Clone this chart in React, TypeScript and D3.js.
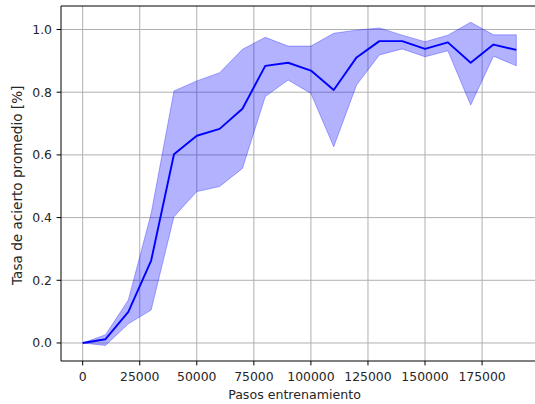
import React from "react";
import * as d3 from "d3";

// Training steps and success rate (mean with ±1 std band)
const steps = [0, 10000, 20000, 30000, 40000, 50000, 60000, 70000, 80000, 90000,
  100000, 110000, 120000, 130000, 140000, 150000, 160000, 170000, 180000, 190000];
const meanRate = [0.0, 0.012, 0.099, 0.263, 0.602, 0.661, 0.683, 0.747, 0.884, 0.894,
  0.869, 0.807, 0.911, 0.963, 0.963, 0.938, 0.959, 0.894, 0.952, 0.935];
const upperRate = [0.0, 0.026, 0.137, 0.413, 0.804, 0.836, 0.862, 0.937, 0.975, 0.947,
  0.947, 0.988, 0.998, 1.005, 0.982, 0.961, 0.982, 1.023, 0.983, 0.983];
const lowerRate = [0.0, -0.008, 0.061, 0.105, 0.403, 0.483, 0.499, 0.557, 0.786, 0.839,
  0.796, 0.626, 0.823, 0.919, 0.938, 0.913, 0.932, 0.759, 0.915, 0.884];

const xTicks = [0, 25000, 50000, 75000, 100000, 125000, 150000, 175000];
const yTicks = [0.0, 0.2, 0.4, 0.6, 0.8, 1.0];

const W = 535;
const H = 404;
const plot = { left: 61, top: 6, right: 538, bottom: 361 };
const FONT = "'DejaVu Sans', sans-serif";
const FS = 12.4;

export default function App() {
  const x = d3.scaleLinear().domain([-9500, 199500]).range([plot.left, plot.right]);
  const y = d3.scaleLinear().domain([-0.0575, 1.075]).range([plot.bottom, plot.top]);

  const rows = steps.map((s, i) => ({ s, m: meanRate[i], hi: upperRate[i], lo: lowerRate[i] }));

  const band = d3.area<typeof rows[number]>()
    .x((d) => x(d.s))
    .y0((d) => y(d.lo))
    .y1((d) => y(d.hi))(rows) ?? "";
  const line = d3.line<typeof rows[number]>()
    .x((d) => x(d.s))
    .y((d) => y(d.m))(rows) ?? "";

  return (
    <svg width={W} height={H} style={{ position: "absolute", left: 0, top: 0, background: "#fff" }}
      fontFamily={FONT}>
      <defs>
        <clipPath id="plotArea">
          <rect x={plot.left} y={plot.top} width={plot.right - plot.left} height={plot.bottom - plot.top} />
        </clipPath>
      </defs>
      <rect x={0} y={0} width={W} height={H} fill="#fff" />

      {/* grid */}
      <g stroke="#b0b0b0" strokeWidth={1}>
        {xTicks.map((t) => (
          <line key={"gx" + t} x1={x(t)} x2={x(t)} y1={plot.top} y2={plot.bottom} />
        ))}
        {yTicks.map((t) => (
          <line key={"gy" + t} x1={plot.left} x2={plot.right} y1={y(t)} y2={y(t)} />
        ))}
      </g>

      <g clipPath="url(#plotArea)">
        <path d={band} fill="#0000ff" fillOpacity={0.3} stroke="#0000ff" strokeOpacity={0.3} strokeWidth={1} />
        <path d={line} fill="none" stroke="#0000ff" strokeWidth={1.9} strokeLinejoin="round" />
      </g>

      {/* spines */}
      <g stroke="#000" strokeWidth={1} fill="none">
        <line x1={plot.left} x2={plot.left} y1={plot.top} y2={plot.bottom} />
        <line x1={plot.left} x2={plot.right} y1={plot.bottom} y2={plot.bottom} />
        <line x1={plot.left} x2={plot.right} y1={plot.top} y2={plot.top} />
        <line x1={plot.right} x2={plot.right} y1={plot.top} y2={plot.bottom} />
      </g>

      {/* x axis ticks */}
      <g fontSize={FS} fill="#262626" textAnchor="middle">
        {xTicks.map((t) => (
          <g key={"tx" + t}>
            <line x1={x(t)} x2={x(t)} y1={plot.bottom} y2={plot.bottom + 4.4} stroke="#000" strokeWidth={1} />
            <text x={x(t)} y={plot.bottom + 20}>{String(t)}</text>
          </g>
        ))}
      </g>

      {/* y axis ticks */}
      <g fontSize={FS} fill="#262626" textAnchor="end">
        {yTicks.map((t) => (
          <g key={"ty" + t}>
            <line x1={plot.left - 4.4} x2={plot.left} y1={y(t)} y2={y(t)} stroke="#000" strokeWidth={1} />
            <text x={plot.left - 9} y={y(t)} dy="0.36em">{t.toFixed(1)}</text>
          </g>
        ))}
      </g>

      <text x={(plot.left + plot.right) / 2 - 5} y={399} fontSize={12.6} fill="#262626" textAnchor="middle">
        Pasos entrenamiento
      </text>
      <text transform={`translate(21.5, 185.3) rotate(-90)`} fontSize={13.6}
        fill="#262626" textAnchor="middle">
        Tasa de acierto promedio [%]
      </text>
    </svg>
  );
}
